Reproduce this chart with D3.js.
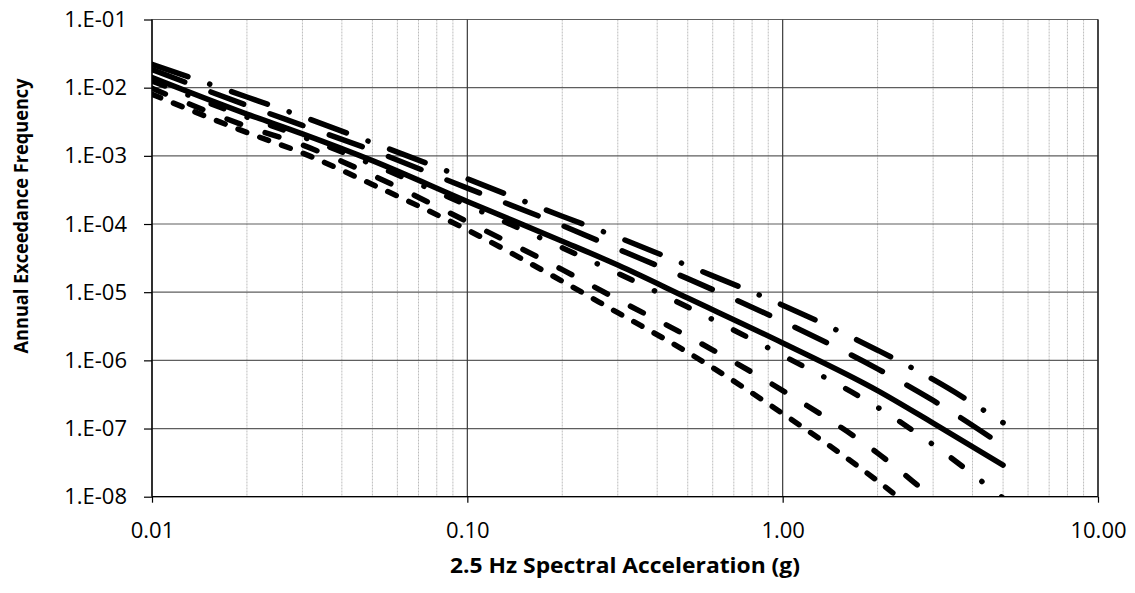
<!DOCTYPE html>
<html><head><meta charset="utf-8">
<script src="https://cdn.jsdelivr.net/npm/d3@7"></script>
<style>
body{margin:0;background:#fff;}
svg{display:block;}
text{font-family:"Open Sans",sans-serif;fill:#000;}
</style>
</head><body>
<svg id="chart" width="1135" height="593"></svg>
<script>
// ---- data ----
const accel = [0.01, 0.02, 0.03, 0.05, 0.1, 0.2, 0.3, 0.5, 1, 2, 3, 5];
const fractile95 = [2.2e-2, 7.3e-3, 3.77e-3, 1.56e-3, 4.6e-4, 1.3e-4, 6.4e-5, 2.45e-5, 6.45e-6, 1.41e-6, 5.25e-7, 1.22e-7];
const fractile84 = [1.85e-2, 5.5e-3, 2.8e-3, 1.2e-3, 3.36e-4, 9.5e-5, 4.3e-5, 1.58e-5, 3.72e-6, 7.5e-7, 2.58e-7, 5.6e-8];
const meanHazard = [1.41e-2, 4.1e-3, 2.1e-3, 8.5e-4, 2.14e-4, 5.6e-5, 2.5e-5, 8.2e-6, 1.8e-6, 3.6e-7, 1.2e-7, 2.9e-8];
const fractile50 = [1.25e-2, 3.7e-3, 1.9e-3, 7.5e-4, 1.88e-4, 4.48e-5, 1.89e-5, 6.05e-6, 1.18e-6, 2.05e-7, 5.8e-8, 9.5e-9];
const fractile16 = [9.8e-3, 2.7e-3, 1.44e-3, 5.2e-4, 1.08e-4, 2.14e-5, 7.8e-6, 2.26e-6, 3.6e-7, 4.36e-8, 9.6e-9, 1.5e-9];
const fractile05 = [8.0e-3, 2.2e-3, 1.1e-3, 3.8e-4, 8.2e-5, 1.45e-5, 5.0e-6, 1.31e-6, 1.66e-7, 1.7e-8, 3.8e-9, 6e-10];

const xTickValues = [0.01, 0.1, 1, 10];
const xTickLabels = ["0.01", "0.10", "1.00", "10.00"];
const yTickValues = [1e-1, 1e-2, 1e-3, 1e-4, 1e-5, 1e-6, 1e-7, 1e-8];
const yTickLabels = ["1.E-01", "1.E-02", "1.E-03", "1.E-04", "1.E-05", "1.E-06", "1.E-07", "1.E-08"];

const xTitle = "2.5 Hz Spectral Acceleration (g)";
const yTitle = "Annual Exceedance Frequency";

// ---- layout / style ----
const L = 152, R = 1098, T = 19.5, B = 496.7;
const svg = d3.select("#chart");

const x = d3.scaleLog().domain([0.01, 10]).range([L, R]);
const y = d3.scaleLog().domain([1e-8, 1e-1]).range([B, T]);

// minor vertical gridlines
const minorX = [];
[0.01, 0.1, 1].forEach(d => { for (let k = 2; k <= 9; k++) minorX.push(d * k); });
svg.append("g").selectAll("line").data(minorX).join("line")
  .attr("x1", d => x(d)).attr("x2", d => x(d))
  .attr("y1", T).attr("y2", B)
  .attr("stroke", "#bdbdbd").attr("stroke-width", 1).attr("stroke-dasharray", "2,1");

// major gridlines
svg.append("g").selectAll("line").data(yTickValues).join("line")
  .attr("x1", L).attr("x2", R)
  .attr("y1", d => y(d)).attr("y2", d => y(d))
  .attr("stroke", "#5e5e5e").attr("stroke-width", 1.2);
svg.append("g").selectAll("line").data(xTickValues).join("line")
  .attr("x1", d => x(d)).attr("x2", d => x(d))
  .attr("y1", T).attr("y2", B)
  .attr("stroke", "#3a3a3a").attr("stroke-width", 1.2);

// frame
svg.append("line").attr("x1", L).attr("x2", L).attr("y1", T).attr("y2", B).attr("stroke", "#000").attr("stroke-width", 1.3);
svg.append("line").attr("x1", L).attr("x2", R).attr("y1", B).attr("y2", B).attr("stroke", "#000").attr("stroke-width", 1.3);
svg.append("line").attr("x1", R).attr("x2", R).attr("y1", T).attr("y2", B).attr("stroke", "#222").attr("stroke-width", 1.3);

// axes
const yAxis = d3.axisLeft(y).tickValues(yTickValues)
  .tickFormat((d, i) => yTickLabels[i]).tickSize(8).tickPadding(17);
const gy = svg.append("g").attr("transform", `translate(${L},0)`).call(yAxis);
gy.select(".domain").remove();
gy.selectAll("line").attr("stroke", "#000").attr("stroke-width", 1.2);
gy.selectAll("text").attr("font-size", 22).attr("font-family", "'Open Sans', sans-serif").attr("fill", "#000");

const xAxis = d3.axisBottom(x).tickValues(xTickValues)
  .tickFormat((d, i) => xTickLabels[i]).tickSize(6).tickPadding(20);
const gx = svg.append("g").attr("transform", `translate(0,${B})`).call(xAxis);
gx.select(".domain").remove();
gx.selectAll("line").attr("stroke", "#000").attr("stroke-width", 1.2);
gx.selectAll("text").attr("font-size", 22).attr("font-family", "'Open Sans', sans-serif").attr("fill", "#000");

// titles
svg.append("text").attr("x", 625).attr("y", 573).attr("text-anchor", "middle")
  .attr("font-size", 22).attr("font-weight", "bold")
  .attr("textLength", 350).attr("lengthAdjust", "spacingAndGlyphs").text(xTitle);
svg.append("text").attr("transform", "translate(28,216) rotate(-90)").attr("text-anchor", "middle")
  .attr("font-size", 20).attr("font-weight", "bold")
  .attr("textLength", 275).attr("lengthAdjust", "spacingAndGlyphs").text(yTitle);

// curves
svg.append("clipPath").attr("id", "plotclip").append("rect")
  .attr("x", L).attr("y", T).attr("width", R - L).attr("height", B - T);

const seriesList = [
  { name: "95th fractile", values: fractile95 },
  { name: "84th fractile", values: fractile84 },
  { name: "Mean", values: meanHazard },
  { name: "50th fractile", values: fractile50 },
  { name: "16th fractile", values: fractile16 },
  { name: "5th fractile", values: fractile05 }
];
const dashStyle = {
  "95th fractile": "38,23,0.1,23",
  "84th fractile": "35,28",
  "Mean": null,
  "50th fractile": "13.6,24.8,0.1,24.8",
  "16th fractile": "14.5,26",
  "5th fractile": "9.3,13.9"
};

const line = d3.line()
  .x(d => x(d[0]))
  .y(d => y(d[1]))
  .curve(d3.curveMonotoneX);

const gl = svg.append("g").attr("clip-path", "url(#plotclip)");
seriesList.forEach(s => {
  const pts = accel.map((a, i) => [a, s.values[i]]);
  gl.append("path").datum(pts)
    .attr("d", line)
    .attr("fill", "none")
    .attr("stroke", "#000")
    .attr("stroke-width", 5.5)
    .attr("stroke-linecap", "round")
    .attr("stroke-linejoin", "round")
    .attr("stroke-dasharray", dashStyle[s.name]);
});
</script>
</body></html>
